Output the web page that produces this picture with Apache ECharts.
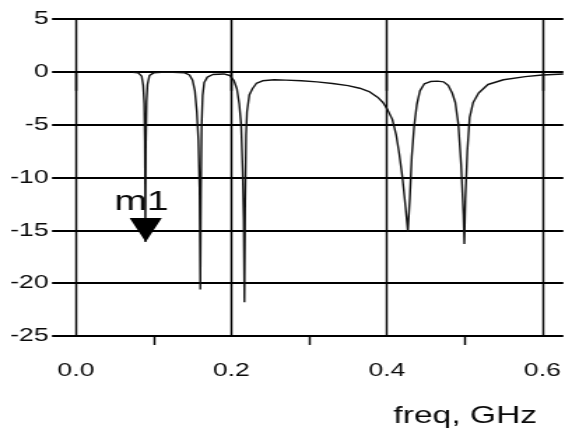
<!DOCTYPE html>
<html>
<head>
<meta charset="utf-8">
<script src="https://cdn.jsdelivr.net/npm/echarts@6/dist/echarts.min.js"></script>
<style>
html,body{margin:0;padding:0;background:#fff;overflow:hidden;width:565px;height:435px;}
#chart{width:404px;height:435px;transform:scaleX(1.3985);transform-origin:0 0;}
</style>
</head>
<body>
<div id="chart"></div>
<script>
// Frequency (GHz) and S-parameter magnitude (dB)
const freq = [0.073,0.080,0.0845,0.0865,0.0878,0.0886,0.0893,0.0899,0.0908,0.0920,0.0945,0.100,0.110,0.125,0.140,0.146,0.150,0.153,0.1555,0.1575,0.1590,0.1600,0.1608,0.1617,0.1630,0.1650,0.1690,0.1760,0.1900,0.1980,0.2030,0.2070,0.2100,0.2125,0.2145,0.2158,0.2167,0.2176,0.2188,0.2200,0.2230,0.2270,0.2320,0.2400,0.2550,0.2700,0.2900,0.3100,0.3300,0.3500,0.3650,0.3780,0.3880,0.3950,0.4010,0.4070,0.4120,0.4160,0.4200,0.4240,0.4270,0.4295,0.4320,0.4350,0.4385,0.4425,0.4480,0.4560,0.4650,0.4730,0.4790,0.4840,0.4880,0.4920,0.4955,0.4985,0.4996,0.5010,0.5035,0.5065,0.5110,0.5180,0.5300,0.5500,0.5780,0.6000,0.6270];
const dB = [-0.05,-0.1,-0.4,-1.3,-3.0,-6.5,-16.1,-7.0,-2.8,-1.2,-0.35,-0.1,-0.05,-0.05,-0.1,-0.3,-0.8,-1.8,-3.8,-6.5,-11,-20.6,-11,-5.0,-2.2,-1.0,-0.5,-0.25,-0.2,-0.35,-0.8,-1.6,-3.0,-5.0,-9.5,-14,-21.8,-13,-6.0,-3.8,-2.2,-1.6,-1.1,-0.85,-0.75,-0.78,-0.85,-0.95,-1.1,-1.3,-1.55,-1.9,-2.4,-2.9,-3.6,-4.5,-6.0,-7.8,-10,-12.8,-15.1,-12,-8.0,-5.2,-3.1,-1.8,-1.15,-0.92,-0.88,-0.95,-1.3,-2.0,-2.9,-5.0,-8.8,-13.5,-16.3,-12,-7.5,-4.3,-2.9,-2.0,-1.2,-0.75,-0.45,-0.3,-0.2];
const xMajorTicks = [0, 0.2, 0.4, 0.6];
const xMinorTicks = [0.1, 0.3, 0.5];
const markerName = 'm1';
const markerPoint = [0.0897, -16.1];
const xTitle = 'freq, GHz';

const FONT = '"Liberation Sans", Arial, Helvetica, sans-serif';
const chart = echarts.init(document.getElementById('chart'));
const xMin = -0.0308, xMax = 0.627;
chart.setOption({
  animation: false,
  backgroundColor: '#fff',
  title: {
    text: xTitle, right: 20, top: 404, padding: 0,
    textStyle: {fontFamily: FONT, fontSize: 24, fontWeight: 'normal', color: '#0a0a0a'}
  },
  grid: {left: 37.2, right: 0, top: 19, bottom: 99, containLabel: false},
  xAxis: [{
    type: 'value', min: xMin, max: xMax,
    axisLine: {show: false},
    axisTick: {show: true, customValues: xMajorTicks, length: 19, lineStyle: {color: '#000', width: 1.45}},
    splitLine: {show: true, lineStyle: {color: '#000', width: 1.45}},
    axisLabel: {customValues: xMajorTicks, margin: 25, fontFamily: FONT, fontSize: 19, color: '#0a0a0a',
      formatter: v => v.toFixed(1)}
  }, {
    type: 'value', min: xMin, max: xMax, position: 'bottom',
    axisLine: {show: false},
    axisTick: {show: true, customValues: xMinorTicks, length: 9, lineStyle: {color: '#000', width: 1.45}},
    splitLine: {show: false},
    axisLabel: {show: false}
  }],
  yAxis: {
    type: 'value', min: -25, max: 5, interval: 5,
    axisLine: {show: false}, axisTick: {show: false},
    splitLine: {show: true, lineStyle: {color: '#000', width: 2}},
    axisLabel: {margin: 2.5, fontFamily: FONT, fontSize: 19, color: '#0a0a0a'}
  },
  series: [{
    type: 'line', xAxisIndex: 0,
    data: freq.map((f, i) => [f, dB[i]]),
    showSymbol: false, smooth: false,
    lineStyle: {color: '#111', width: 1.4},
    markPoint: {
      silent: true,
      data: [{
        coord: markerPoint, symbol: 'triangle', symbolRotate: 180,
        symbolSize: [23, 24], symbolOffset: [0, -12],
        itemStyle: {color: '#000'},
        label: {show: true, formatter: markerName, position: 'inside', offset: [-3, -28],
          fontFamily: FONT, fontSize: 28, color: '#0a0a0a'}
      }]
    }
  }]
});
</script>
</body>
</html>
